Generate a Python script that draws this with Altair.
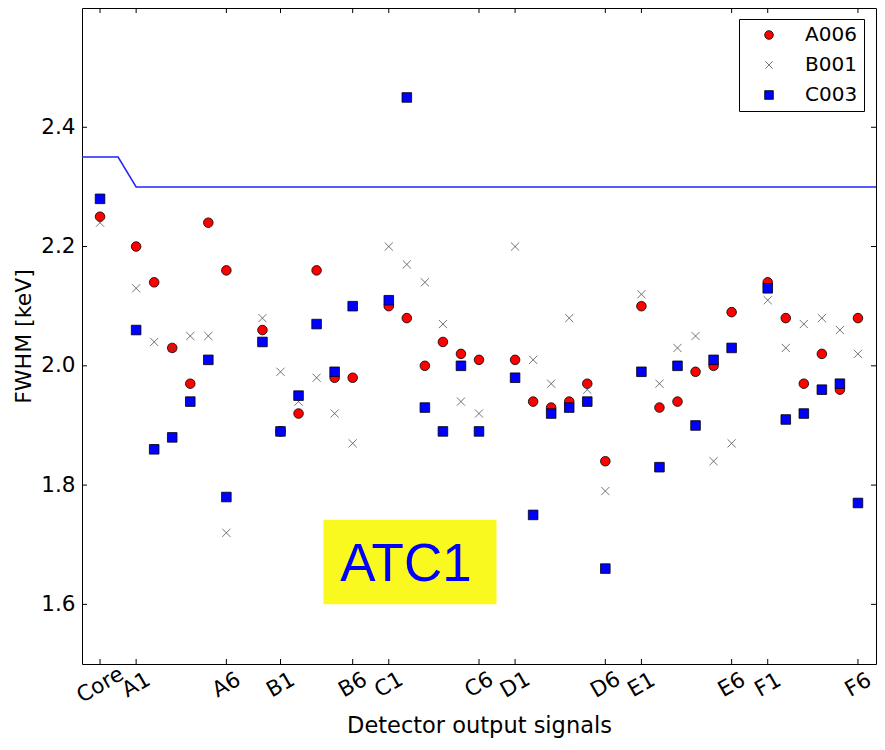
import altair as alt
import pandas as pd

# ---------------- data ----------------
signals = ["Core",
           "A1", "A2", "A3", "A4", "A5", "A6",
           "B1", "B2", "B3", "B4", "B5", "B6",
           "C1", "C2", "C3", "C4", "C5", "C6",
           "D1", "D2", "D3", "D4", "D5", "D6",
           "E1", "E2", "E3", "E4", "E5", "E6",
           "F1", "F2", "F3", "F4", "F5", "F6"]
positions = [0,
             2, 3, 4, 5, 6, 7,
             9, 10, 11, 12, 13, 14,
             16, 17, 18, 19, 20, 21,
             23, 24, 25, 26, 27, 28,
             30, 31, 32, 33, 34, 35,
             37, 38, 39, 40, 41, 42]

A006 = [2.25,
        2.20, 2.14, 2.03, 1.97, 2.24, 2.16,
        2.06, 1.89, 1.92, 2.16, 1.98, 1.98,
        2.10, 2.08, 2.00, 2.04, 2.02, 2.01,
        2.01, 1.94, 1.93, 1.94, 1.97, 1.84,
        2.10, 1.93, 1.94, 1.99, 2.00, 2.09,
        2.14, 2.08, 1.97, 2.02, 1.96, 2.08]
B001 = [2.24,
        2.13, 2.04, 2.03, 2.05, 2.05, 1.72,
        2.08, 1.99, 1.94, 1.98, 1.92, 1.87,
        2.20, 2.17, 2.14, 2.07, 1.94, 1.92,
        2.20, 2.01, 1.97, 2.08, 1.96, 1.79,
        2.12, 1.97, 2.03, 2.05, 1.84, 1.87,
        2.11, 2.03, 2.07, 2.08, 2.06, 2.02]
C003 = [2.28,
        2.06, 1.86, 1.88, 1.94, 2.01, 1.78,
        2.04, 1.89, 1.95, 2.07, 1.99, 2.10,
        2.11, 2.45, 1.93, 1.89, 2.00, 1.89,
        1.98, 1.75, 1.92, 1.93, 1.94, 1.66,
        1.99, 1.83, 2.00, 1.90, 2.01, 2.03,
        2.13, 1.91, 1.92, 1.96, 1.97, 1.77]
series_names = ["A006", "B001", "C003"]

# threshold line
limit_x = [-1, 1, 2, 43]
limit_y = [2.35, 2.35, 2.30, 2.30]

# axis ticks
tick_pos = [0, 2, 7, 10, 14, 16, 21, 23, 28, 30, 35, 37, 42]
tick_labels = ["Core", "A1", "A6", "B1", "B6", "C1", "C6",
               "D1", "D6", "E1", "E6", "F1", "F6"]
y_ticks = [1.6, 1.8, 2.0, 2.2, 2.4]

# annotation box
note_text = ["ATC1"]
note_box_x = [12.38, 21.97]
note_box_y = [1.600, 1.742]
note_text_xy = [16.95, 1.639]

# ---------------- build ----------------
W, H = 794, 656
FONT = "DejaVu Sans"

rows = []
for name, vals in zip(series_names, [A006, B001, C003]):
    for p, s, v in zip(positions, signals, vals):
        rows.append({"series": name, "pos": p, "signal": s, "fwhm": v})
df = pd.DataFrame(rows)

x_scale = alt.Scale(domain=[-1, 43], nice=False, zero=False)
y_scale = alt.Scale(domain=[1.5, 2.6], nice=False, zero=False)

label_expr = " : ".join(f"datum.value == {p} ? '{l}'" for p, l in zip(tick_pos, tick_labels)) + " : ''"

x_axis = alt.Axis(values=tick_pos, labelExpr=label_expr, labelAngle=330,
                  labelAlign="center", labelBaseline="middle", labelPadding=21,
                  ticks=False, tickSize=0, domain=False, grid=False,
                  labelFont=FONT, labelFontSize=21.5, labelColor="black",
                  labelFlush=False, labelOverlap=False,
                  title="Detector output signals", titleFont=FONT, titleFontSize=22.5,
                  titleFontWeight="normal", titleColor="black",
                  titleX=W / 2, titleY=68, titleAlign="center", titleBaseline="alphabetic")
y_axis = alt.Axis(values=y_ticks, format=".1f", labelPadding=7,
                  ticks=False, tickSize=0, domain=False, grid=False,
                  labelFont=FONT, labelFontSize=21.5, labelColor="black",
                  labelFlush=False, labelOverlap=False,
                  title="FWHM [keV]", titleFont=FONT, titleFontSize=22,
                  titleFontWeight="normal", titleColor="black",
                  titleAngle=270, titleX=-59, titleY=H / 2,
                  titleAlign="center", titleBaseline="middle")

legend = alt.Legend(title=None, orient="none", legendX=657, legendY=11, padding=6,
                    symbolOffset=14, labelOffset=26, labelFont=FONT, labelFontSize=20,
                    labelColor="black", rowPadding=10, symbolSize=75,
                    symbolStrokeWidth=0.8, fillColor="white", strokeColor="black",
                    cornerRadius=0, symbolOpacity=1)

x_path = "M-0.85,-0.85L0.85,0.85M0.85,-0.85L-0.85,0.85"


def X(field):
    return alt.X(field, scale=x_scale, axis=x_axis)


def Y(field):
    return alt.Y(field, scale=y_scale, axis=y_axis)


line_df = pd.DataFrame({"pos": limit_x, "fwhm": limit_y, "k": list(range(len(limit_x)))})
line = alt.Chart(line_df).mark_line(color="#2222ff", strokeWidth=1.5).encode(
    x=X("pos:Q"), y=Y("fwhm:Q"), order="k:Q",
)

points = alt.Chart(df).mark_point(opacity=1, strokeWidth=0.8, size=92).encode(
    x=X("pos:Q"), y=Y("fwhm:Q"),
    shape=alt.Shape("series:N", scale=alt.Scale(domain=series_names,
                                                range=["circle", x_path, "square"]),
                    legend=legend),
    fill=alt.Fill("series:N", scale=alt.Scale(domain=series_names,
                                              range=["#ff0000", "transparent", "#0000ff"]),
                  legend=legend),
    stroke=alt.Stroke("series:N", scale=alt.Scale(domain=series_names,
                                                  range=["#000000", "#505050", "#000000"]),
                      legend=legend),
)

box_df = pd.DataFrame({"pos": [note_box_x[0]], "pos2": [note_box_x[1]],
                       "fwhm": [note_box_y[0]], "fwhm2": [note_box_y[1]]})
box = alt.Chart(box_df).mark_rect(color="#f9f91f").encode(
    x=X("pos:Q"), x2="pos2:Q",
    y=Y("fwhm:Q"), y2="fwhm2:Q",
)
txt_df = pd.DataFrame({"pos": [note_text_xy[0]], "fwhm": [note_text_xy[1]], "t": note_text})
txt = alt.Chart(txt_df).mark_text(font="Liberation Sans", fontSize=53, color="#0000ff",
                                  align="center", baseline="alphabetic").encode(
    x=X("pos:Q"), y=Y("fwhm:Q"), text="t:N",
)

xt = pd.DataFrame({"pos": tick_pos})
yt = pd.DataFrame({"fwhm": y_ticks})
tick_bottom = alt.Chart(xt).mark_rule(color="black", strokeWidth=1).encode(
    x=X("pos:Q"), y=alt.value(H), y2=alt.value(H - 5))
tick_top = alt.Chart(xt).mark_rule(color="black", strokeWidth=1).encode(
    x=X("pos:Q"), y=alt.value(0), y2=alt.value(5))
tick_left = alt.Chart(yt).mark_rule(color="black", strokeWidth=1).encode(
    y=Y("fwhm:Q"), x=alt.value(0), x2=alt.value(5))
tick_right = alt.Chart(yt).mark_rule(color="black", strokeWidth=1).encode(
    y=Y("fwhm:Q"), x=alt.value(W), x2=alt.value(W - 5))

chart = alt.layer(
    line, points, box, txt, tick_bottom, tick_top, tick_left, tick_right
).properties(
    width=W, height=H,
    autosize=alt.AutoSizeParams(type="none"),
    padding={"left": 82, "top": 8, "right": 9, "bottom": 86},
    background="white",
).configure_view(
    stroke="black", strokeWidth=1
)

chart.save("out.html", embed_options={"renderer": "svg", "actions": False})
